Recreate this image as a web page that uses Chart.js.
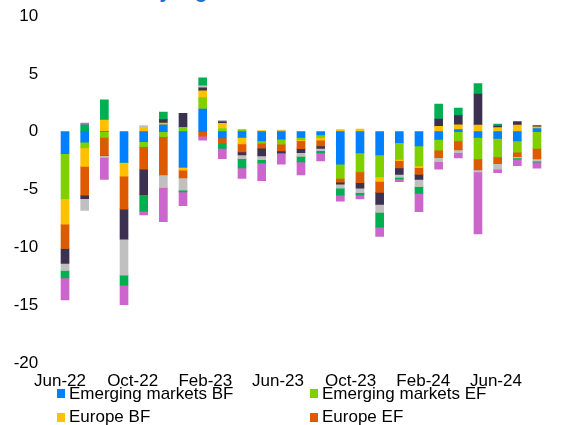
<!DOCTYPE html>
<html>
<head>
<meta charset="utf-8">
<script src="https://cdn.jsdelivr.net/npm/chart.js@4/dist/chart.umd.min.js"></script>
<style>
  html, body { margin: 0; padding: 0; background: #fff; }
  body { width: 564px; height: 425px; overflow: hidden; position: relative;
         font-family: "Liberation Sans", Arial, sans-serif; }
  #title { position: absolute; left: 4px; top: -19px; font-size: 20px; line-height: 20px;
           font-weight: bold; color: #1F6FD0; white-space: nowrap; }
  #wrap { position: absolute; left: 0; top: 0; width: 564px; height: 388px; }
  #legend { position: absolute; left: 57px; top: 382px; display: grid;
            grid-template-columns: 253px 250px; font-size: 17px; color: #000; }
  #legend div { display: flex; align-items: center; height: 23.4px; white-space: nowrap; }
  #legend span.box { display: inline-block; width: 8px; height: 9px; margin-right: 4px; }
</style>
</head>
<body>
<div id="title">Net fund flows by region</div>
<div id="wrap"><canvas id="chart"></canvas></div>
<div id="legend"></div>
<script>
// months on the category axis, Jun-22 .. Jun-24
const months = ['Jun-22','Jul-22','Aug-22','Sep-22','Oct-22','Nov-22','Dec-22',
  'Jan-23','Feb-23','Mar-23','Apr-23','May-23','Jun-23','Jul-23','Aug-23','Sep-23',
  'Oct-23','Nov-23','Dec-23','Jan-24','Feb-24','Mar-24','Apr-24','May-24','Jun-24'];
const shownMonths = ['Jun-22','Oct-22','Feb-23','Jun-23','Oct-23','Feb-24','Jun-24'];

const seriesNames = ['Emerging markets BF','Emerging markets EF','Europe BF','Europe EF',
  'Japan BF','Japan EF','US BF','US EF'];
const seriesColors = ['#0080FF','#80D000','#FFC000','#DE5A00',
  '#3D3152','#C0C0C0','#00B050','#CC66CC'];

const emBF = [-1.9,-0.9,0,-2.65,-0.87,0.6,-3.1,1.96,-0.55,-0.5,-0.8,-0.65,-0.49,
  -0.29,-2.8,-1.84,-2.02,-0.95,-1.24,-0.66,0.17,-0.49,-0.58,-0.8,0.26];
const emEF = [-3.9,-0.5,-0.5,0,-0.43,-0.43,0.38,0.98,0.27,0.17,-0.19,-0.43,-0.21,
  -0.23,-1.24,-1.64,-1.9,-1.44,-1.73,-0.95,-0.8,-1.87,-1.6,-0.98,-1.44];
const euBF = [-2.2,-1.6,1.0,-1.2,0.35,0.14,-0.23,0.6,0.45,-0.55,0.09,0.08,-0.07,
  -0.22,0.17,0.23,-0.38,-0.12,-0.14,0.46,0.43,0.58,0.35,0.58,0.15];
const euEF = [-2.1,-2.5,-1.55,-2.85,-1.95,-3.3,-0.66,-0.4,-0.45,-0.7,-0.43,-0.58,-0.7,
  -0.49,-0.32,-0.92,-0.95,-0.63,-0.58,-0.63,-0.78,-0.95,-0.58,-0.38,-0.92];
const jpBF = [-1.3,-0.3,0,-2.6,-2.2,0.3,1.2,0.26,0.16,-0.26,-0.67,-0.18,-0.35,
  -0.21,-0.17,-0.49,-1.04,-0.55,-0.43,0.63,0.78,2.68,0.14,0.29,0.12];
const jpEF = [-0.6,-1.0,-0.17,-3.1,0.17,-1.1,-1.06,0.17,0.1,-0.32,-0.34,0.06,-0.32,
  -0.2,-0.35,-0.38,-0.69,-0.26,-0.63,-0.35,-0.23,-0.17,-0.49,-0.1,-0.18];
const usBF = [-0.65,0.6,1.75,-0.9,-1.45,0.66,-0.15,0.69,-0.45,-0.8,-0.28,0,-0.47,
  -0.19,-0.6,-0.2,-1.27,-0.14,-0.58,1.3,0.66,0.89,0.17,-0.12,-0.1];
const usEF = [-1.9,0.15,-1.9,-1.65,-0.3,-2.95,-1.2,-0.34,-0.88,-0.92,-1.53,-0.98,-1.12,
  -0.7,-0.52,-0.35,-0.81,-0.23,-1.59,-0.66,-0.46,-5.36,-0.29,-0.56,-0.52];

const seriesValues = [emBF, emEF, euBF, euEF, jpBF, jpEF, usBF, usEF];

const yTicks = [10, 5, 0, -5, -10, -15, -20];

const labelFont = { family: '"Liberation Sans", Arial, sans-serif', size: 17 };

const datasets = seriesNames.map(function(name, i) {
    return {
        label: name,
        data: seriesValues[i],
        backgroundColor: seriesColors[i],
        borderWidth: 0,
        barThickness: 8
    };
});

const chart = new Chart(document.getElementById('chart'), {
    type: 'bar',
    data: { labels: months, datasets: datasets },
    options: {
        responsive: true,
        maintainAspectRatio: false,
        animation: false,
        layout: { padding: { top: 16, right: 17.2, left: 0, bottom: 0 } },
        plugins: { legend: { display: false }, tooltip: { enabled: false } },
        scales: {
            x: { stacked: true, display: false },
            // label axis: the date labels sit a little tighter than the bars
            xl: {
                type: 'linear',
                position: 'bottom',
                offset: false,
                min: -0.264,
                max: 26.8,
                grid: { display: false, drawTicks: false, offset: false },
                border: { display: false },
                afterBuildTicks: function(axis) {
                    axis.ticks = shownMonths.map(m => ({ value: months.indexOf(m) }));
                },
                afterFit: function(axis) { axis.height = 25; },
                ticks: {
                    autoSkip: false,
                    maxRotation: 0,
                    padding: 8,
                    color: '#000',
                    font: labelFont,
                    callback: v => months[v]
                }
            },
            y: {
                stacked: true,
                min: Math.min(...yTicks),
                max: Math.max(...yTicks),
                grid: { display: false, drawTicks: false },
                border: { display: false },
                afterFit: function(axis) {
                    axis.width = 55.2;
                    // tick padding should not push the plot down
                    axis.paddingTop = 10;
                    axis.paddingBottom = 10;
                },
                ticks: {
                    stepSize: 5,
                    padding: 17,
                    color: '#000',
                    font: labelFont
                }
            }
        }
    }
});

// legend in two columns, lower rows fall off the page like in the source
const legend = document.getElementById('legend');
chart.data.datasets.forEach(function(ds) {
    const item = document.createElement('div');
    const box = document.createElement('span');
    box.className = 'box';
    box.style.background = ds.backgroundColor;
    item.appendChild(box);
    item.appendChild(document.createTextNode(ds.label));
    legend.appendChild(item);
});
</script>
</body>
</html>
